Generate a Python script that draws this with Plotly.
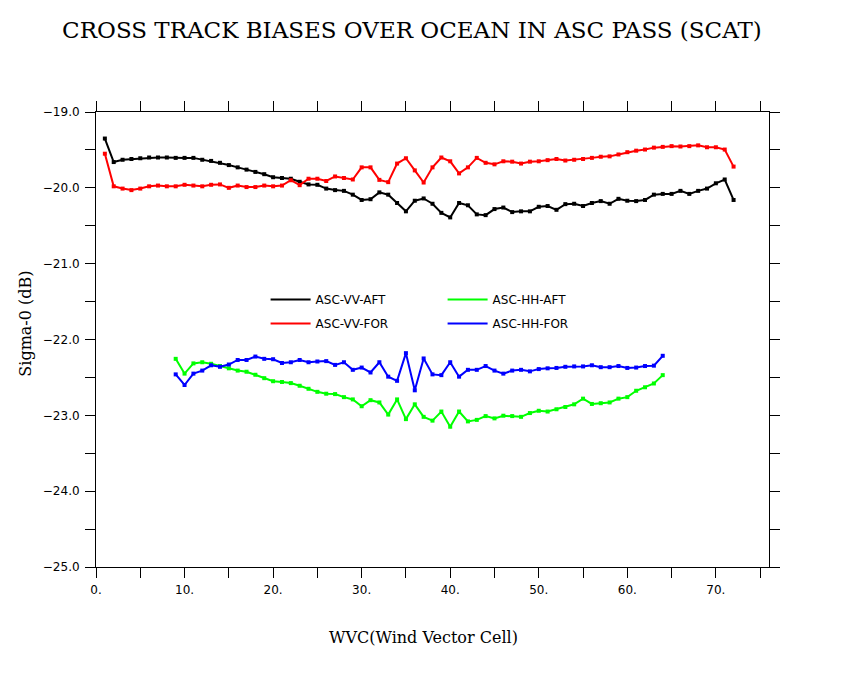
import plotly.graph_objects as go

wvc_vv = list(range(1, 73))
wvc_hh = list(range(9, 65))

asc_vv_aft = [
    -19.35, -19.66, -19.63, -19.62, -19.61, -19.60, -19.60, -19.60, -19.605, -19.605,
    -19.605, -19.63, -19.645, -19.67, -19.70, -19.73, -19.76, -19.79, -19.82, -19.86,
    -19.87, -19.88, -19.92, -19.955, -19.96, -20.01, -20.03, -20.04, -20.09, -20.16,
    -20.15, -20.06, -20.09, -20.20, -20.31, -20.17, -20.14, -20.21, -20.33, -20.39,
    -20.20, -20.23, -20.35, -20.36, -20.28, -20.26, -20.32, -20.31, -20.31, -20.25,
    -20.24, -20.29, -20.215, -20.21, -20.24, -20.20, -20.175, -20.21, -20.145, -20.17,
    -20.175, -20.16, -20.09, -20.08, -20.08, -20.04, -20.08, -20.04, -20.01, -19.94,
    -19.89, -20.16,
]
asc_vv_for = [
    -19.55, -19.98, -20.01, -20.03, -20.01, -19.98, -19.97, -19.98, -19.98, -19.96,
    -19.97, -19.98, -19.96, -19.955, -20.00, -19.97, -19.99, -19.99, -19.97, -19.98,
    -19.97, -19.90, -19.965, -19.88, -19.88, -19.91, -19.85, -19.87, -19.89, -19.73,
    -19.73, -19.895, -19.925, -19.68, -19.61, -19.77, -19.93, -19.73, -19.60, -19.65,
    -19.81, -19.73, -19.605, -19.67, -19.69, -19.65, -19.655, -19.68, -19.655, -19.65,
    -19.635, -19.62, -19.64, -19.63, -19.62, -19.605, -19.59, -19.585, -19.56, -19.53,
    -19.51, -19.495, -19.47, -19.46, -19.45, -19.455, -19.45, -19.44, -19.465, -19.465,
    -19.495, -19.72,
]
asc_hh_aft = [
    -22.255, -22.45, -22.315, -22.30, -22.32, -22.35, -22.38, -22.41, -22.425, -22.465,
    -22.51, -22.55, -22.56, -22.575, -22.61, -22.65, -22.69, -22.715, -22.72, -22.76,
    -22.79, -22.88, -22.80, -22.83, -22.99, -22.79, -23.05, -22.855, -23.02, -23.07,
    -22.95, -23.15, -22.95, -23.08, -23.06, -23.01, -23.04, -23.005, -23.01, -23.02,
    -22.97, -22.94, -22.95, -22.92, -22.89, -22.855, -22.78, -22.85, -22.84, -22.83,
    -22.78, -22.76, -22.676, -22.63, -22.58, -22.47,
]
asc_hh_for = [
    -22.46, -22.60, -22.45, -22.41, -22.34, -22.36, -22.33, -22.27, -22.27, -22.225,
    -22.255, -22.26, -22.31, -22.30, -22.27, -22.30, -22.29, -22.285, -22.335, -22.30,
    -22.40, -22.37, -22.435, -22.30, -22.49, -22.545, -22.18, -22.67, -22.25, -22.46,
    -22.47, -22.30, -22.49, -22.40, -22.40, -22.35, -22.41, -22.45, -22.41, -22.40,
    -22.42, -22.39, -22.38, -22.375, -22.36, -22.355, -22.355, -22.34, -22.365, -22.365,
    -22.35, -22.375, -22.37, -22.35, -22.345, -22.215,
]

x_ticks = list(range(0, 80, 5))
x_labels = [f"{v}." if v % 10 == 0 else "" for v in x_ticks]
y_ticks = [-25 + 0.5 * i for i in range(13)]
y_labels = [f"{v:.1f}".replace("-", "\u2212") if v == int(v) else "" for v in y_ticks]

series = [
    ("ASC-VV-AFT", wvc_vv, asc_vv_aft, "#000000", "legend"),
    ("ASC-VV-FOR", wvc_vv, asc_vv_for, "#ff0000", "legend"),
    ("ASC-HH-AFT", wvc_hh, asc_hh_aft, "#00ff00", "legend2"),
    ("ASC-HH-FOR", wvc_hh, asc_hh_for, "#0000ff", "legend2"),
]

fig = go.Figure()

for name, xs, ys, color, leg in series:
    fig.add_trace(go.Scatter(x = xs, y = ys, name = name, mode = "lines",
                             line = dict(color = color, width = 2),
                             legend = leg, legendgroup = name))
    fig.add_trace(go.Scatter(x = xs, y = ys, mode = "markers", showlegend = False,
                             marker = dict(symbol = "square", size = 4, color = color)))

axis_common = dict(showline = True, linecolor = "black", linewidth = 1, mirror = "ticks",
                   ticks = "outside", ticklen = 10, tickcolor = "black", showgrid = False,
                   zeroline = False, automargin = False,
                   tickfont = dict(family = "DejaVu Sans", size = 12, color = "black"))

fig.update_xaxes(range = [0, 76], tickvals = x_ticks, ticktext = x_labels,
                 ticklabelstandoff = 2, **axis_common)
fig.update_yaxes(range = [-25, -19], tickvals = y_ticks, ticktext = y_labels,
                 ticklabelstandoff = 3, **axis_common)

legend_common = dict(bgcolor = "rgba(0,0,0,0)", borderwidth = 0, xanchor = "left", yanchor = "top",
                     tracegroupgap = 5, itemwidth = 40,
                     font = dict(family = "DejaVu Sans", size = 12, color = "black"))

# page body has an 8px margin, so the figure is drawn 8px smaller
fig.update_layout(
    width = 842, height = 672,
    plot_bgcolor = "white", paper_bgcolor = "white",
    margin = dict(l = 88, r = 81, t = 104, b = 113),
    title = dict(text = "CROSS TRACK BIASES OVER OCEAN IN ASC PASS (SCAT)",
                 x = 0.4695, xanchor = "center", xref = "paper",
                 y = 0.967, yref = "container", yanchor = "middle",
                 font = dict(family = "DejaVu Serif", size = 23, color = "black")),
    legend = dict(x = 0.252, y = 0.62, **legend_common),
    legend2 = dict(x = 0.515, y = 0.62, **legend_common),
    annotations = [
        dict(text = "WVC(Wind Vector Cell)", xref = "paper", yref = "paper",
             x = 0.486, y = -0.154, xanchor = "center", yanchor = "middle", showarrow = False,
             font = dict(family = "DejaVu Serif", size = 16, color = "black")),
        dict(text = "Sigma-0 (dB)", xref = "paper", yref = "paper", textangle = -90,
             x = -0.106, y = 0.534, xanchor = "center", yanchor = "middle", showarrow = False,
             font = dict(family = "DejaVu Serif", size = 16, color = "black")),
    ],
)

fig.write_html("out.html")
